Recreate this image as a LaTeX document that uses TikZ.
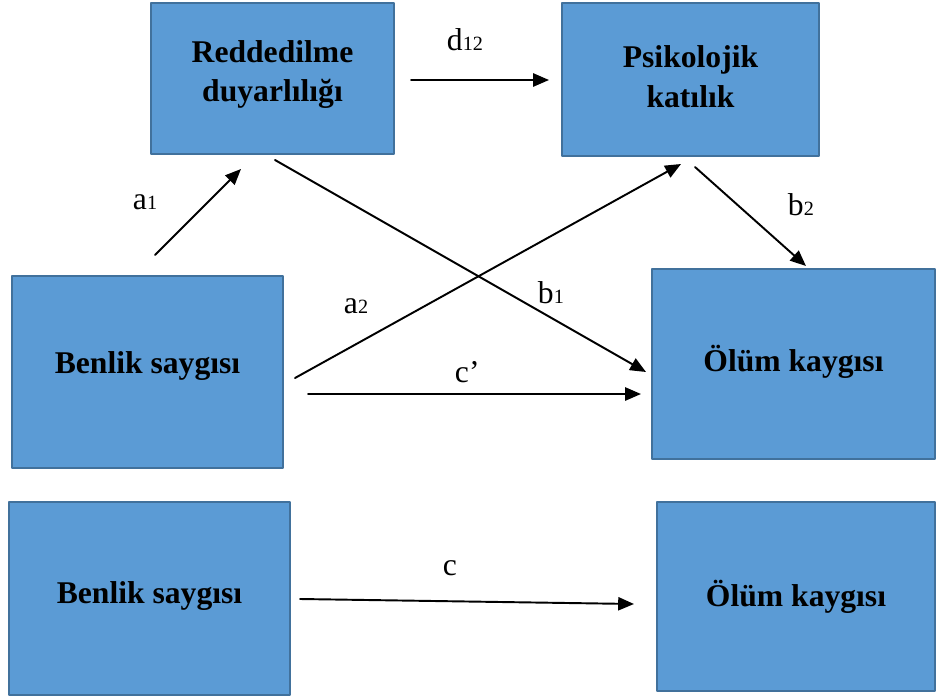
\documentclass[tikz,border=0pt]{standalone}
\usepackage{fontspec}
\setmainfont{Liberation Serif}
\usetikzlibrary{arrows.meta}
\definecolor{boxfill}{HTML}{5B9BD5}
\definecolor{boxline}{HTML}{41719C}
\tikzset{
	varbox/.style={draw=boxline,line width=0.9pt,fill=boxfill,inner sep=0pt,align=center,
		font=\fontsize{18}{22.5}\selectfont\bfseries},
	pathlabel/.style={anchor=base west,inner sep=0pt,font=\fontsize{18}{18}\selectfont}
}
\newcommand{\lblsub}[1]{{\fontsize{11.5}{11.5}\selectfont #1}}
\begin{document}
\begin{tikzpicture}[
	x=0.02cm,y=-0.02cm,
	>={Triangle[length=9pt,width=7.5pt]},
	line width=1.1pt,
	line cap=round,
	line join=round
	]
	\useasboundingbox (0,0) rectangle (938,697);
	% variables
	\node[varbox,text depth=8.5pt,minimum width=4.86cm,minimum height=3.02cm] (redd) at (272.5,78.5) {Reddedilme\\duyarlılığı};
	\node[varbox,text depth=3.4pt,minimum width=5.14cm,minimum height=3.06cm] (psik) at (690.5,79.5) {Psikolojik\\katılık};
	\node[varbox,text depth=10.7pt,minimum width=5.42cm,minimum height=3.84cm] (benlik) at (147.5,372) {Benlik saygısı};
	\node[varbox,text depth=6.2pt,minimum width=5.66cm,minimum height=3.80cm] (olum) at (793.5,364) {Ölüm kaygısı};
	\node[varbox,text depth=7.3pt,minimum width=5.62cm,minimum height=3.86cm] (benlikt) at (149.5,598.5) {Benlik saygısı};
	\node[varbox,minimum width=5.56cm,minimum height=3.78cm] (olumt) at (796,596.5) {Ölüm kaygısı};
	% arrow ends
	\coordinate (a1s) at (155,255);  \coordinate (a1e) at (241,169);
	\coordinate (d12s) at (411,80);  \coordinate (d12e) at (549,80);
	\coordinate (b1s) at (275,160);  \coordinate (b1e) at (646,372);
	\coordinate (a2s) at (295,378);  \coordinate (a2e) at (681,164);
	\coordinate (b2s) at (695,167);  \coordinate (b2e) at (806,266);
	\coordinate (cps) at (308,394);  \coordinate (cpe) at (641,394);
	\coordinate (cs) at (300,599);   \coordinate (ce) at (634,604);
	\begin{scope}[->]
		\draw (a1s) -- (a1e);
		\draw (d12s) -- (d12e);
		\draw (b1s) -- (b1e);
		\draw (a2s) -- (a2e);
		\draw (b2s) -- (b2e);
		\draw (cps) -- (cpe);
		\draw (cs) -- (ce);
	\end{scope}
	% path labels
	\node[pathlabel] (la1) at (132,209) {a\lblsub{1}};
	\node[pathlabel] (ld12) at (446,50) {d\lblsub{12}};
	\node[pathlabel] (la2) at (343,313) {a\lblsub{2}};
	\node[pathlabel] (lb1) at (537,303) {b\lblsub{1}};
	\node[pathlabel] (lb2) at (787,215) {b\lblsub{2}};
	\node[pathlabel] (lcp) at (454,382) {c’};
	\node[pathlabel] (lc) at (442,575) {c};
\end{tikzpicture}
\end{document}
